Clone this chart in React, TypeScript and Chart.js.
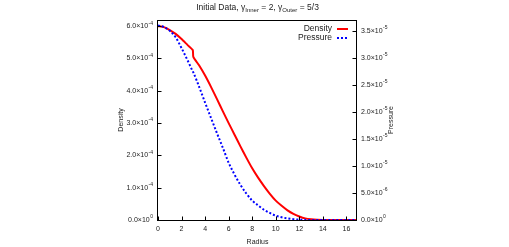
import React, { useEffect, useRef } from "react";
import { Chart, registerables } from "chart.js";

Chart.register(...registerables);

// ---- data ----
const radius = [0, 0.5, 1, 1.5, 2, 2.5, 2.95, 3.0, 3.5, 4, 4.5, 5, 5.5, 6, 6.5, 7, 7.5, 8, 8.5, 9, 9.5, 10, 10.5, 11, 11.5, 12, 12.5, 13, 13.5, 14, 15, 16, 16.9];
const density = [6.0e-4, 5.97e-4, 5.88e-4, 5.76e-4, 5.6e-4, 5.42e-4, 5.26e-4, 5.05e-4, 4.78e-4, 4.47e-4, 4.12e-4, 3.75e-4, 3.37e-4, 3.0e-4, 2.64e-4, 2.28e-4, 1.93e-4, 1.6e-4, 1.31e-4, 1.05e-4, 0.81e-4, 0.6e-4, 0.44e-4, 0.3e-4, 0.19e-4, 0.11e-4, 0.05e-4, 0.02e-4, 0.005e-4, 0, 0, 0, 0];
const pressure = [3.6e-5, 3.57e-5, 3.5e-5, 3.38e-5, 3.18e-5, 2.96e-5, 2.75e-5, 2.73e-5, 2.46e-5, 2.17e-5, 1.89e-5, 1.61e-5, 1.34e-5, 1.06e-5, 0.84e-5, 0.65e-5, 0.49e-5, 0.36e-5, 0.27e-5, 0.19e-5, 0.13e-5, 0.08e-5, 0.05e-5, 0.03e-5, 0.015e-5, 0.007e-5, 0.002e-5, 0, 0, 0, 0, 0, 0];

const xTicks = [0, 2, 4, 6, 8, 10, 12, 14, 16];
const densityTicks = [0, 1e-4, 2e-4, 3e-4, 4e-4, 5e-4, 6e-4];
const densityTickMantissa = ["0.0", "1.0", "2.0", "3.0", "4.0", "5.0", "6.0"];
const densityTickExponent = ["0", "-4", "-4", "-4", "-4", "-4", "-4"];
const pressureTicks = [0, 5e-6, 1e-5, 1.5e-5, 2e-5, 2.5e-5, 3e-5, 3.5e-5];
const pressureTickMantissa = ["0.0", "5.0", "1.0", "1.5", "2.0", "2.5", "3.0", "3.5"];
const pressureTickExponent = ["0", "-6", "-5", "-5", "-5", "-5", "-5", "-5"];

const titleParts = [
  { t: "Initial Data, \u03b3", sub: false },
  { t: "Inner", sub: true },
  { t: " = 2, \u03b3", sub: false },
  { t: "Outer", sub: true },
  { t: " = 5/3", sub: false },
];
const xTitle = "Radius";
const yTitle = "Density";
const y2Title = "Pressure";
const legendLabels = ["Density", "Pressure"];

const FONT = "'Liberation Sans', Arial, sans-serif";

function drawSci(ctx: CanvasRenderingContext2D, mant: string, exp: string, x: number, y: number, align: "left" | "right") {
  const base = mant + "\u00d710";
  ctx.font = `7px ${FONT}`;
  const wb = ctx.measureText(base).width;
  ctx.font = `5px ${FONT}`;
  const we = ctx.measureText(exp).width + 0.5;
  const total = wb + we;
  const x0 = align === "right" ? x - total : x;
  ctx.textAlign = "left";
  ctx.textBaseline = "middle";
  ctx.font = `7px ${FONT}`;
  ctx.fillText(base, x0, y);
  ctx.font = `5px ${FONT}`;
  ctx.fillText(exp, x0 + wb + 0.5, y - 3);
}

const decorPlugin = {
  id: "decor",
  afterDraw(chart: any) {
    const ctx: CanvasRenderingContext2D = chart.ctx;
    const { left, right, top, bottom } = chart.chartArea;
    const xs = chart.scales.x;
    const ys = chart.scales.y;
    const y2s = chart.scales.y2;
    ctx.save();
    ctx.fillStyle = "#222";
    ctx.strokeStyle = "#000";
    ctx.lineWidth = 1;
    const L = Math.round(left) - 0.5;
    const R = Math.round(right) - 0.5;
    const T = Math.round(top) + 0.5;
    const B = Math.round(bottom) + 0.5;
    ctx.strokeRect(L, T, R - L, B - T);
    const tl = 4;
    ctx.beginPath();
    xTicks.forEach((v) => {
      const px = Math.round(xs.getPixelForValue(v)) + 0.5;
      ctx.moveTo(px, B);
      ctx.lineTo(px, B - tl);
    });
    densityTicks.forEach((v) => {
      const py = Math.round(ys.getPixelForValue(v)) + 0.5;
      ctx.moveTo(L, py);
      ctx.lineTo(L + tl, py);
    });
    pressureTicks.forEach((v) => {
      const py = Math.round(y2s.getPixelForValue(v)) + 0.5;
      ctx.moveTo(R, py);
      ctx.lineTo(R - tl, py);
    });
    ctx.stroke();

    // x tick labels
    ctx.font = `7px ${FONT}`;
    ctx.textAlign = "center";
    ctx.textBaseline = "middle";
    xTicks.forEach((v) => {
      ctx.fillText(String(v), xs.getPixelForValue(v), B + 9);
    });
    densityTicks.forEach((v, i) => {
      drawSci(ctx, densityTickMantissa[i], densityTickExponent[i], left - 5, ys.getPixelForValue(v), "right");
    });
    pressureTicks.forEach((v, i) => {
      drawSci(ctx, pressureTickMantissa[i], pressureTickExponent[i], right + 4, y2s.getPixelForValue(v), "left");
    });

    // axis titles
    ctx.font = `7px ${FONT}`;
    ctx.textAlign = "center";
    ctx.textBaseline = "middle";
    ctx.fillText(xTitle, (left + right) / 2, B + 22);
    const cy = (top + bottom) / 2;
    ctx.save();
    ctx.translate(121, cy);
    ctx.rotate(-Math.PI / 2);
    ctx.fillText(yTitle, 0, 0);
    ctx.restore();
    ctx.save();
    ctx.translate(391, cy);
    ctx.rotate(-Math.PI / 2);
    ctx.fillText(y2Title, 0, 0);
    ctx.restore();

    // title
    const segs = titleParts.map((p) => ({ ...p, font: p.sub ? `6px ${FONT}` : `8.5px ${FONT}` }));
    let tw = 0;
    segs.forEach((s) => {
      ctx.font = s.font;
      tw += ctx.measureText(s.t).width;
    });
    let tx = (left + right) / 2 - tw / 2;
    ctx.textAlign = "left";
    segs.forEach((s) => {
      ctx.font = s.font;
      ctx.fillText(s.t, tx, s.sub ? 10 : 8);
      tx += ctx.measureText(s.t).width;
    });

    // legend
    ctx.font = `8.5px ${FONT}`;
    ctx.textAlign = "right";
    const lx = right - 25;
    const ly = [29, 38];
    ctx.fillText(legendLabels[0], lx, ly[0]);
    ctx.fillText(legendLabels[1], lx, ly[1]);
    ctx.lineWidth = 2;
    ctx.strokeStyle = "#ff0000";
    ctx.beginPath();
    ctx.moveTo(lx + 5, ly[0]);
    ctx.lineTo(lx + 16, ly[0]);
    ctx.stroke();
    ctx.strokeStyle = "#0000ff";
    ctx.setLineDash([2, 2]);
    ctx.beginPath();
    ctx.moveTo(lx + 5, ly[1]);
    ctx.lineTo(lx + 16, ly[1]);
    ctx.stroke();
    ctx.restore();
  },
};

export default function App() {
  const ref = useRef<HTMLCanvasElement | null>(null);
  useEffect(() => {
    if (!ref.current) return;
    const chart = new Chart(ref.current, {
      type: "line",
      data: {
        datasets: [
          {
            label: legendLabels[0],
            data: radius.map((r, i) => ({ x: r, y: density[i] })),
            yAxisID: "y",
            borderColor: "#ff0000",
            borderWidth: 2,
            pointRadius: 0,
            tension: 0.2,
            order: 1,
          },
          {
            label: legendLabels[1],
            data: radius.map((r, i) => ({ x: r, y: pressure[i] })),
            yAxisID: "y2",
            borderColor: "#0000ff",
            borderWidth: 2,
            borderDash: [2, 2],
            pointRadius: 0,
            cubicInterpolationMode: "monotone",
            order: 0,
          },
        ],
      },
      options: {
        responsive: false,
        animation: false,
        devicePixelRatio: 1,
        layout: { padding: { left: 158, right: 152, top: 20, bottom: 27 } },
        plugins: { legend: { display: false }, title: { display: false }, tooltip: { enabled: false } },
        scales: {
          x: { type: "linear", min: 0, max: 16.9, display: false },
          y: { type: "linear", min: 0, max: 6.19e-4, display: false },
          y2: { type: "linear", min: 0, max: 3.7e-5, display: false, position: "right" },
        },
      },
      plugins: [decorPlugin],
    });
    return () => chart.destroy();
  }, []);
  return (
    <div style={{ position: "fixed", left: 0, top: 0, width: 509, height: 247, background: "#fff" }}>
      <canvas ref={ref} width={509} height={247} />
    </div>
  );
}
